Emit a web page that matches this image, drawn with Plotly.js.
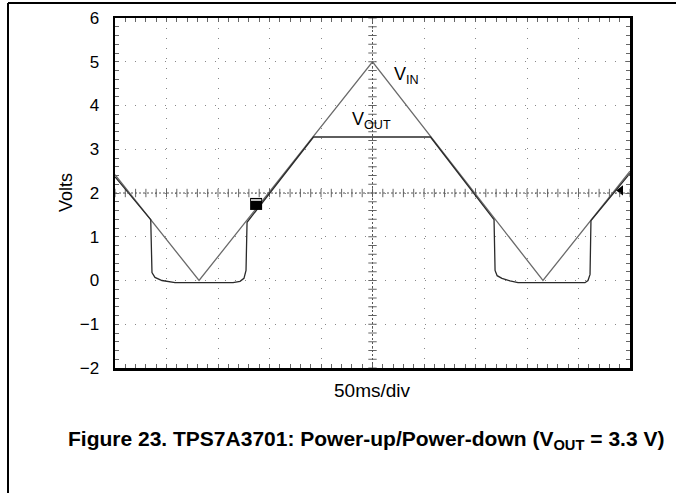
<!DOCTYPE html>
<html>
<head>
<meta charset="utf-8">
<script src="https://cdn.plot.ly/plotly-3.0.1.min.js"></script>
<style>html,body{margin:0;padding:0;background:#fff;}#chart{width:676px;height:493px;}</style>
</head>
<body>
<div id="chart"></div>
<script>
// Time in ms (50 ms/div, 10 divisions)
const vinT = [0, 81.6, 250, 415.5, 500];
const vinV = [2.42, 0.0, 5.0, 0.0, 2.5];

const voutT = [0, 34.7, 35.9, 38.8, 45.6, 58.3, 114.6, 121.4, 125.2, 127.2, 128.2, 192.7, 306.3, 368.0, 369.0, 371.0, 375.7, 383.5, 391.3, 456.3, 459.2, 461.2, 462.1, 500];
const voutV = [2.37, 1.39, 0.18, 0.07, 0.0, -0.05, -0.05, -0.02, 0.05, 0.23, 1.33, 3.28, 3.28, 1.39, 0.23, 0.11, 0.05, -0.01, -0.05, -0.05, 0.0, 0.14, 1.37, 2.45];

const trigT = [137];
const trigV = [1.75];
const levelT = [491];
const levelV = [2.06];

const yTickVals = [-2, -1, 0, 1, 2, 3, 4, 5, 6];

// center graticule tick marks
const cx = 250, cy = 2;
const hTickX = [], hTickY = [];
for (let t = 0; t <= 500; t += 10) { hTickX.push(t); hTickY.push(cy); }
const vTickX = [], vTickY = [];
for (let k = 0; k <= 40; k++) { vTickX.push(cx); vTickY.push(-2 + k * 0.2); }

const traces = [
  {x: hTickX, y: hTickY, mode: 'markers', hoverinfo: 'skip', showlegend: false,
   marker: {symbol: 'line-ns', size: 6, line: {width: 1, color: '#666'}}},
  {x: vTickX, y: vTickY, mode: 'markers', hoverinfo: 'skip', showlegend: false,
   marker: {symbol: 'line-ew', size: 6, line: {width: 1, color: '#666'}}},
  {x: vinT, y: vinV, mode: 'lines', name: 'VIN', line: {color: '#6a6a6a', width: 1.3}},
  {x: voutT, y: voutV, mode: 'lines', name: 'VOUT', line: {color: '#2a2a2a', width: 1.3}},
  {x: trigT, y: trigV, mode: 'markers', showlegend: false,
   marker: {symbol: 'square', size: 12, color: '#000'}},
  {x: levelT, y: levelV, mode: 'markers', showlegend: false,
   marker: {symbol: 'triangle-left', size: 9, color: '#000'}}
];

const px2x = p => (p - 115) / 515;
const py2y = p => (368 - p) / 350;

const layout = {
  width: 676, height: 493,
  margin: {l: 115, r: 46, t: 18, b: 125},
  paper_bgcolor: '#fff', plot_bgcolor: '#fff',
  showlegend: false,
  font: {family: 'Liberation Sans, Arial, sans-serif', color: '#000', size: 17},
  xaxis: {
    range: [0, 500], dtick: 50, tick0: 0, showticklabels: false,
    showgrid: true, gridcolor: '#888', griddash: '1px,9px', gridwidth: 1,
    ticks: 'inside', ticklen: 4, tickcolor: '#666',
    minor: {dtick: 10, ticks: 'inside', ticklen: 4, tickcolor: '#666', showgrid: false},
    showline: true, linecolor: '#000', linewidth: 2.5, mirror: 'allticks',
    zeroline: false, fixedrange: true
  },
  yaxis: {
    range: [-2, 6], tickvals: yTickVals,
    showgrid: true, gridcolor: '#888', griddash: '1px,9px', gridwidth: 1,
    ticks: 'inside', ticklen: 4, tickcolor: '#666',
    minor: {dtick: 0.2, ticks: 'inside', ticklen: 4, tickcolor: '#666', showgrid: false},
    showline: true, linecolor: '#000', linewidth: 2.5, mirror: 'allticks',
    zeroline: false, fixedrange: true, ticklabelstandoff: 10,
    tickfont: {size: 17}
  },
  shapes: [
    {type: 'line', xref: 'x', yref: 'y', x0: 0, x1: 500, y0: cy, y1: cy,
     line: {color: '#555', width: 1, dash: '2px,2px'}},
    {type: 'line', xref: 'x', yref: 'y', x0: cx, x1: cx, y0: -2, y1: 6,
     line: {color: '#555', width: 1, dash: '2px,2px'}},
    {type: 'line', xref: 'paper', yref: 'paper', x0: px2x(8), x1: px2x(676), y0: py2y(3), y1: py2y(3),
     line: {color: '#000', width: 2}},
    {type: 'line', xref: 'paper', yref: 'paper', x0: px2x(8), x1: px2x(8), y0: py2y(3), y1: py2y(493),
     line: {color: '#000', width: 2}},
    {type: 'line', xref: 'x', yref: 'y', x0: trigT[0] - 5, x1: trigT[0] + 5, y0: trigV[0] + 0.09, y1: trigV[0] + 0.09,
     line: {color: '#fff', width: 1.5}}
  ],
  annotations: [
    {text: 'V<sub>IN</sub>', x: 268.9, y: 4.69, xref: 'x', yref: 'y', xanchor: 'left', yanchor: 'middle',
     showarrow: false, font: {size: 18}},
    {text: 'V<sub>OUT</sub>', x: 228.2, y: 3.66, xref: 'x', yref: 'y', xanchor: 'left', yanchor: 'middle',
     showarrow: false, font: {size: 18}},
    {text: 'Volts', textangle: -90, x: px2x(66), y: py2y(193), xref: 'paper', yref: 'paper',
     xanchor: 'center', yanchor: 'middle', showarrow: false, font: {size: 18}},
    {text: '50ms/div', x: px2x(372), y: py2y(390), xref: 'paper', yref: 'paper',
     xanchor: 'center', yanchor: 'middle', showarrow: false, font: {size: 19}},
    {text: '<b>Figure 23. TPS7A3701: Power-up/Power-down (V<sub>OUT</sub> = 3.3 V)</b>',
     x: px2x(366), y: py2y(440), xref: 'paper', yref: 'paper',
     xanchor: 'center', yanchor: 'middle', showarrow: false, font: {size: 21}}
  ]
};

Plotly.newPlot('chart', traces, layout, {staticPlot: true, displayModeBar: false});
</script>
</body>
</html>
